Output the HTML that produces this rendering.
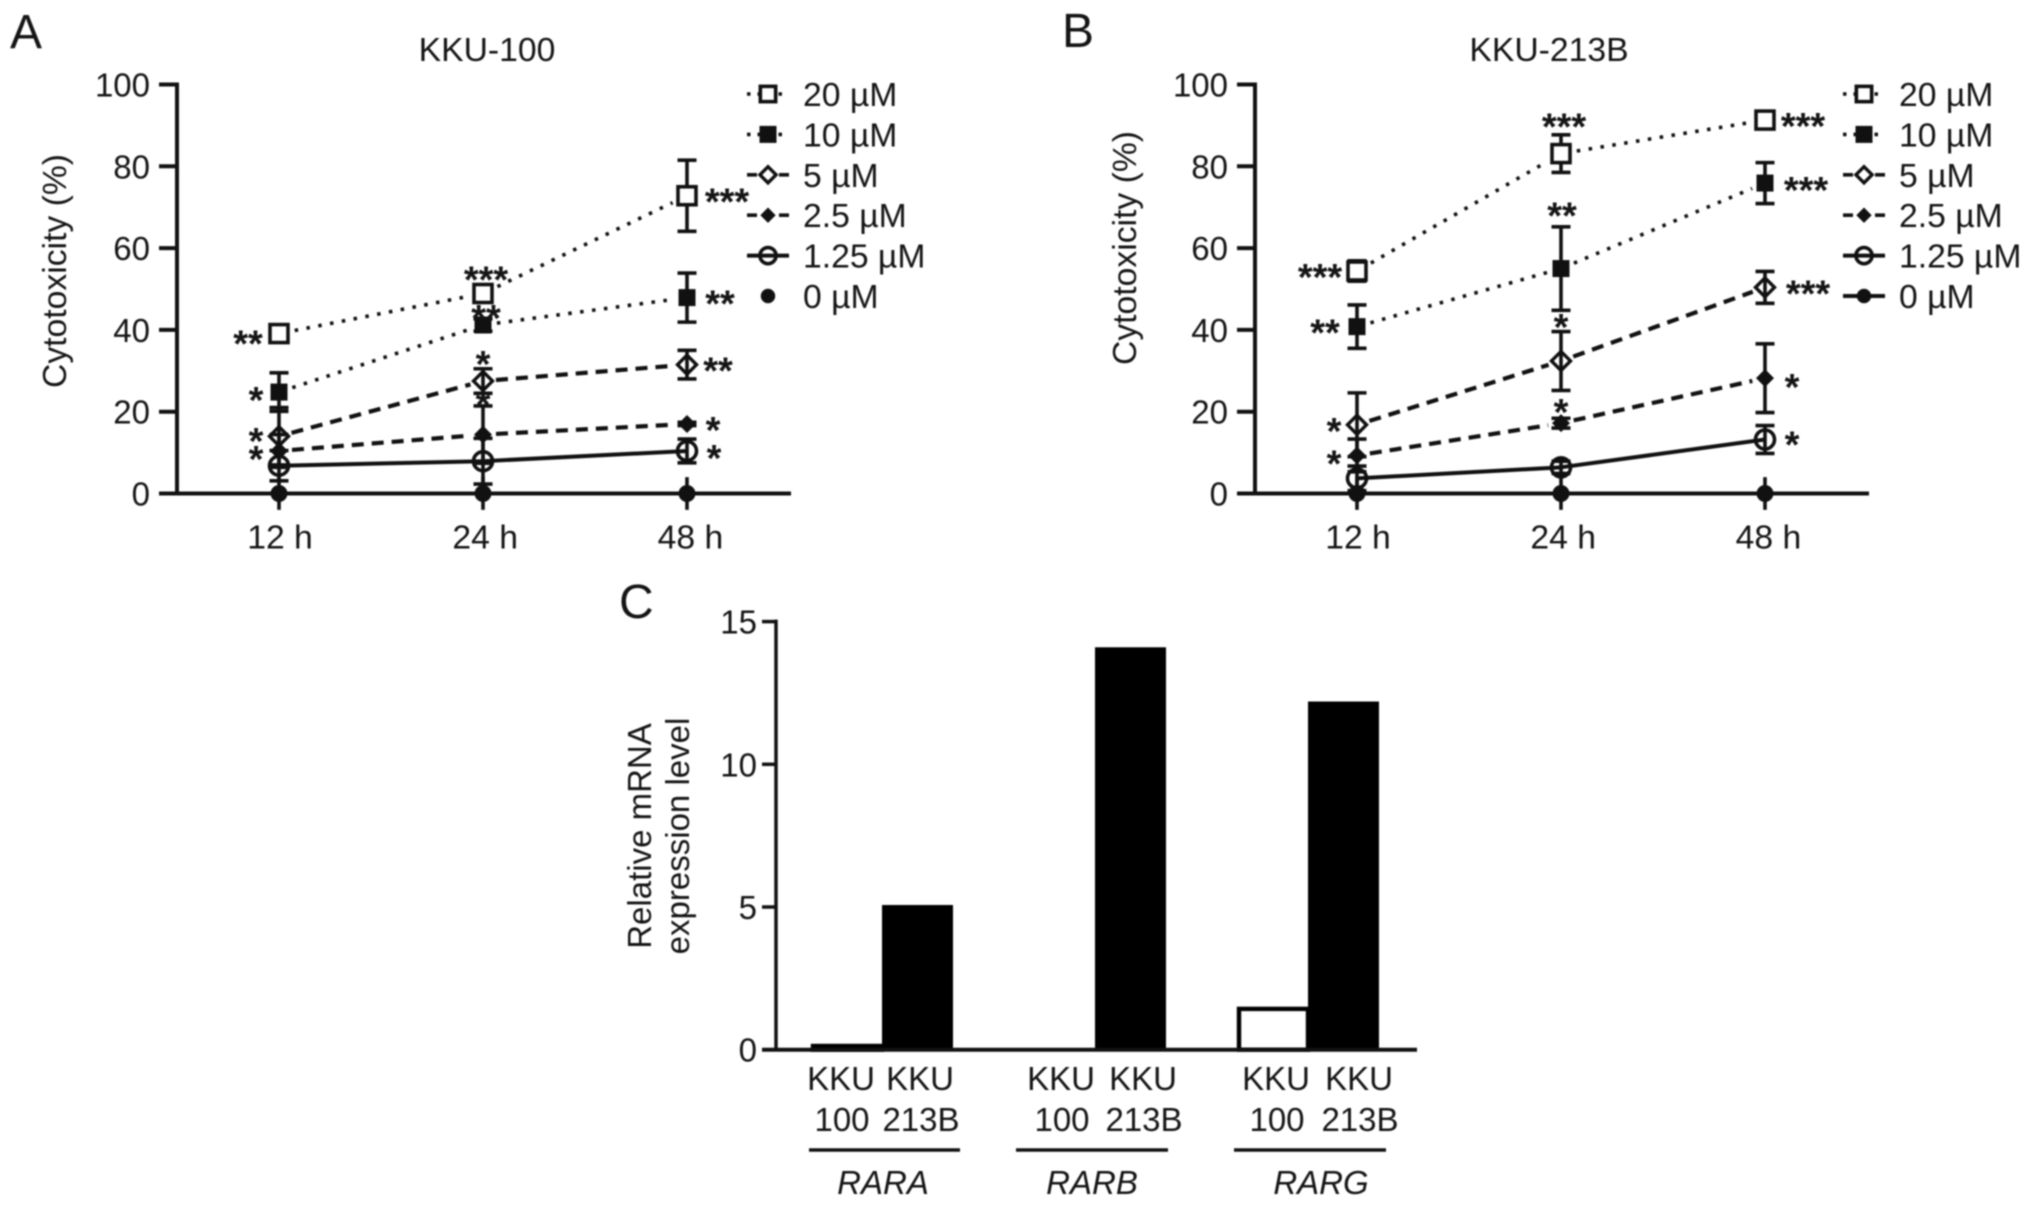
<!DOCTYPE html>
<html lang="en">
<head>
<meta charset="utf-8">
<title>Cytotoxicity and mRNA expression in KKU-100 and KKU-213B</title>
<style>
  html, body { margin: 0; padding: 0; background: #fff; }
  svg { display: block; filter: blur(0.7px); }
  text { font-family: "Liberation Sans", "DejaVu Sans", sans-serif; fill: #151515; }
</style>
</head>
<body>
<svg id="figure" xmlns="http://www.w3.org/2000/svg" width="2031" height="1207" viewBox="0 0 2031 1207">
  <rect x="0" y="0" width="2031" height="1207" fill="#fff"/>
  <text x="10" y="48" font-size="48">A</text>
  <text x="1062" y="47" font-size="48">B</text>
  <text x="619" y="618" font-size="48">C</text>
  <text x="487" y="61" font-size="33.7" text-anchor="middle">KKU-100</text>
  <text x="1549" y="61" font-size="33.7" text-anchor="middle">KKU-213B</text>
  <text transform="translate(66 271) rotate(-90)" font-size="33.7" text-anchor="middle">Cytotoxicity (%)</text>
  <text transform="translate(1136 248) rotate(-90)" font-size="33.7" text-anchor="middle">Cytotoxicity (%)</text>
  <text transform="translate(651 836) rotate(-90)" font-size="33" text-anchor="middle">Relative mRNA</text>
  <text transform="translate(689 836) rotate(-90)" font-size="33" text-anchor="middle">expression level</text>
  <g id="chart-a"></g>
  <g id="chart-b"></g>
  <g id="chart-c"></g>
</svg>
<script>
// ---------- shared categories and ticks ----------
const timepoints = ['12 h', '24 h', '48 h'];
const doseLabels = ['20 \u00B5M', '10 \u00B5M', '5 \u00B5M', '2.5 \u00B5M', '1.25 \u00B5M', '0 \u00B5M'];
const cytotoxicityTicks = [0, 20, 40, 60, 80, 100];

// ---------- panel A: KKU-100 means (%), one array per dose ----------
const kku100Dose20 = [39.1, 48.9, 72.8];
const kku100Dose10 = [24.8, 41.2, 47.9];
const kku100Dose5 = [14.0, 27.5, 31.5];
const kku100Dose2p5 = [10.4, 14.4, 17.0];
const kku100Dose1p25 = [6.8, 7.9, 10.4];
const kku100Dose0 = [0, 0, 0];

// panel A: error bars (+/-)
const kku100Err20 = [1.5, 2.0, 8.7];
const kku100Err10 = [4.7, 1.5, 6.0];
const kku100Err5 = [7.0, 3.0, 3.5];
const kku100Err2p5 = [4.0, 7.0, 0.4];
const kku100Err1p25 = [3.7, 5.6, 2.9];
const kku100Err0 = [4, 4, 4];

// ---------- panel B: KKU-213B means (%) ----------
const kku213bDose20 = [54.4, 83.1, 91.3];
const kku213bDose10 = [40.8, 55.0, 75.9];
const kku213bDose5 = [16.8, 32.4, 50.4];
const kku213bDose2p5 = [9.3, 17.2, 28.2];
const kku213bDose1p25 = [3.7, 6.4, 13.2];
const kku213bDose0 = [0, 0, 0];

// panel B: error bars (+/-)
const kku213bErr20 = [2.5, 4.6, 2.0];
const kku213bErr10 = [5.3, 10.2, 5.0];
const kku213bErr5 = [7.8, 7.2, 3.9];
const kku213bErr2p5 = [4.0, 1.2, 8.4];
const kku213bErr1p25 = [3.0, 1.5, 3.4];
const kku213bErr0 = [4, 4, 4];

// ---------- panel C: relative mRNA ----------
const geneLabels = ['RARA', 'RARB', 'RARG'];
const expressionKku100 = [0.2, 0, 1.5];
const expressionKku213b = [5.07, 14.1, 12.2];
const expressionTicks = [0, 5, 10, 15];

const SVGNS = 'http://www.w3.org/2000/svg';
function make(parent, tag, attrs, content) {
  const node = document.createElementNS(SVGNS, tag);
  for (const key in attrs) node.setAttribute(key, attrs[key]);
  if (content !== undefined) node.textContent = content;
  parent.appendChild(node);
  return node;
}

function doseStyle(i) {
  switch (i) {
    case 0: return { kind: 'square', dash: '3.5 8.5', trim: 16 };
    case 1: return { kind: 'squareFilled', dash: '3.5 8.5', trim: 14 };
    case 2: return { kind: 'diamond', dash: '12 8', trim: 13 };
    case 3: return { kind: 'diamondFilled', dash: '12 8', trim: 13 };
    case 4: return { kind: 'circle', dash: '', trim: 0 };
    default: return { kind: 'circleFilled', dash: '', trim: 0 };
  }
}

function drawMarker(parent, kind, cx, cy, scale, name) {
  const s = scale;
  let m;
  if (kind === 'square') {
    m = make(parent, 'rect', { x: cx - 9 * s, y: cy - 9 * s, width: 18 * s, height: 18 * s, fill: '#fff', stroke: '#111', 'stroke-width': 3.6 });
  } else if (kind === 'squareFilled') {
    m = make(parent, 'rect', { x: cx - 8.5, y: cy - 8.5, width: 17, height: 17, fill: '#111' });
  } else if (kind === 'diamond') {
    const r = 9.5 * s;
    m = make(parent, 'polygon', { points: [cx - r, cy, cx, cy - r, cx + r, cy, cx, cy + r].join(' '), fill: 'none', stroke: '#111', 'stroke-width': 3.4 });
  } else if (kind === 'diamondFilled') {
    const r = 9 * s;
    m = make(parent, 'polygon', { points: [cx - r, cy, cx, cy - r, cx + r, cy, cx, cy + r].join(' '), fill: '#111' });
  } else if (kind === 'circle') {
    m = make(parent, 'circle', { cx: cx, cy: cy, r: 9.5 * s, fill: 'none', stroke: '#111', 'stroke-width': 3.6 });
  } else {
    m = make(parent, 'circle', { cx: cx, cy: cy, r: 8.5 * s, fill: '#111' });
  }
  
  
  return m;
}

function drawLineChart(chart, seriesValues, seriesErrors) {
  const root = chart.root;
  const yOf = v => chart.y0 - v * (chart.y0 - chart.y100) / 100;
  const xOf = i => chart.x0 + i * chart.step;
  chart.xOf = xOf;
  chart.yOf = yOf;
  chart.values = seriesValues;

  // axes
  const xAxis = make(root, 'line', { x1: chart.axisX - 18, y1: chart.y0, x2: chart.axisEnd, y2: chart.y0, stroke: '#111', 'stroke-width': 4 });
  
  
  const yAxis = make(root, 'line', { x1: chart.axisX, y1: chart.y100 - 2, x2: chart.axisX, y2: chart.y0 + 2, stroke: '#111', 'stroke-width': 4 });
  
  

  cytotoxicityTicks.forEach(t => {
    const tick = make(root, 'line', { x1: chart.axisX - 18, y1: yOf(t), x2: chart.axisX, y2: yOf(t), stroke: '#111', 'stroke-width': 4 });
    
    
    const label = make(root, 'text', { x: chart.axisX - 27, y: yOf(t) + 12, 'font-size': 33, 'text-anchor': 'end' }, String(t));
    
    
  });

  timepoints.forEach((t, i) => {
    const label = make(root, 'text', { x: xOf(i) + 1 + i * 1.2, y: chart.y0 + 55, 'font-size': 33.7, 'text-anchor': 'middle' }, t);
    
    
  });

  // series lines
  seriesValues.forEach((vals, s) => {
    const st = doseStyle(s);
    for (let i = 0; i < vals.length - 1; i++) {
      const x1 = xOf(i), y1 = yOf(vals[i]), x2 = xOf(i + 1), y2 = yOf(vals[i + 1]);
      const len = Math.hypot(x2 - x1, y2 - y1);
      const ux = (x2 - x1) / len, uy = (y2 - y1) / len;
      const seg = make(root, 'line', {
        x1: x1 + ux * st.trim, y1: y1 + uy * st.trim,
        x2: x2 - ux * st.trim, y2: y2 - uy * st.trim,
        stroke: '#111', 'stroke-width': st.dash ? (s < 2 ? 3.6 : 4.2) : 4
      });
      if (st.dash) seg.setAttribute('stroke-dasharray', st.dash);
      
      
    }
  });

  // error bars
  seriesValues.forEach((vals, s) => {
    vals.forEach((v, i) => {
      const e = seriesErrors[s][i];
      const x = xOf(i);
      const bar = make(root, 'line', { x1: x, y1: yOf(v + e), x2: x, y2: yOf(v - e), stroke: '#111', 'stroke-width': 3.6 });
      
      
      if (s < 5) {
        [v + e, v - e].forEach((end, k) => {
          const cap = make(root, 'line', { x1: x - 9.5, y1: yOf(end), x2: x + 9.5, y2: yOf(end), stroke: '#111', 'stroke-width': 3.6 });
          
          
        });
      }
    });
  });

  // markers
  seriesValues.forEach((vals, s) => {
    vals.forEach((v, i) => {
      drawMarker(root, doseStyle(s).kind, xOf(i), yOf(v), 1, 'marker-' + doseLabels[s].split(' ')[0] + 'um-' + timepoints[i].replace(' ', ''));
    });
  });

  // legend
  doseLabels.forEach((lab, s) => {
    const st = doseStyle(s);
    const rowY = 94 + s * 40.4;
    const entry = make(root, 'g', {});
    
    
    if (chart.zeroLegendLine || s < 5) {
      const sample = make(entry, 'line', { x1: chart.legendX, y1: rowY, x2: chart.legendX + 42, y2: rowY, stroke: '#111', 'stroke-width': st.dash ? 3.6 : 4 });
      if (st.dash) sample.setAttribute('stroke-dasharray', s < 2 ? '3.5 7' : '10 22');
      
      
    }
    drawMarker(entry, st.kind, chart.legendX + 21, rowY, 0.85, 'legend-marker');
    const text = make(entry, 'text', { x: chart.legendX + 56, y: rowY + 12, 'font-size': 33.7 }, lab);
    
    
  });
}

// significance asterisk anchored to a data point, offset in px
function star(chart, s, i, label, dx, dy) {
  const x = chart.xOf(i) + dx;
  const y = chart.yOf(chart.values[s][i]) + dy;
  const t = make(chart.root, 'text', { x: x, y: y + 18, 'font-size': 38, 'font-weight': 'bold', 'text-anchor': 'middle' }, label);
  
  
}

// ---------- panel A ----------
const chartA = { root: document.getElementById('chart-a'), axisX: 177, axisEnd: 791, x0: 279, step: 204, y0: 493.5, y100: 84.5, legendX: 747, zeroLegendLine: false };
drawLineChart(chartA,
  [kku100Dose20, kku100Dose10, kku100Dose5, kku100Dose2p5, kku100Dose1p25, kku100Dose0],
  [kku100Err20, kku100Err10, kku100Err5, kku100Err2p5, kku100Err1p25, kku100Err0]);
star(chartA, 0, 0, '**', -31, 5);
star(chartA, 0, 1, '***', 3, -19);
star(chartA, 0, 2, '***', 40, 1);
star(chartA, 1, 0, '*', -23, 3);
star(chartA, 1, 1, '**', 3, -12);
star(chartA, 1, 2, '**', 33, 1);
star(chartA, 2, 0, '*', -23, 0);
star(chartA, 2, 1, '*', 0, -22);
star(chartA, 2, 2, '**', 31, 1);
star(chartA, 3, 0, '*', -23, 3);
star(chartA, 3, 1, '*', 0, -35);
star(chartA, 3, 2, '*', 26, 1);
star(chartA, 4, 2, '*', 27, 2);

// ---------- panel B ----------
const chartB = { root: document.getElementById('chart-b'), axisX: 1255, axisEnd: 1869, x0: 1357, step: 204, y0: 493.5, y100: 84.5, legendX: 1843, zeroLegendLine: true };
drawLineChart(chartB,
  [kku213bDose20, kku213bDose10, kku213bDose5, kku213bDose2p5, kku213bDose1p25, kku213bDose0],
  [kku213bErr20, kku213bErr10, kku213bErr5, kku213bErr2p5, kku213bErr1p25, kku213bErr0]);
star(chartB, 0, 0, '***', -37, 1);
star(chartB, 0, 1, '***', 3, -32);
star(chartB, 0, 2, '***', 38, 1);
star(chartB, 1, 0, '**', -32, 1);
star(chartB, 1, 1, '**', 1, -58);
star(chartB, 1, 2, '***', 41, 2);
star(chartB, 2, 0, '*', -23, 1);
star(chartB, 2, 1, '*', 0, -39);
star(chartB, 2, 2, '***', 43, 1);
star(chartB, 3, 0, '*', -23, 3);
star(chartB, 3, 1, '*', 0, -16);
star(chartB, 3, 2, '*', 27, 4);
star(chartB, 4, 2, '*', 27, 0);

// ---------- panel C ----------
(function drawBars() {
  const root = document.getElementById('chart-c');
  const axisX = 776, axisEnd = 1417, y0 = 1049.7, y15 = 621.6;
  const barWidth = 71;
  const yOf = v => y0 - v * (y0 - y15) / 15;
  const groupX = i => 882 + i * 213;

  // label and rule placement per group, relative to the group centre
  function groupLayout(i) {
    if (i === 0) return { left: -41, right: 38, ruleL: -73, ruleR: 78, gene: 1 };
    if (i === 1) return { left: -34, right: 48, ruleL: -79, ruleR: 73, gene: -3 };
    return { left: -32, right: 51, ruleL: -74, ruleR: 78, gene: 13 };
  }

  // bars first so the axis line overlays their base
  geneLabels.forEach((gene, i) => {
    const h100 = y0 - yOf(expressionKku100[i]);
    if (expressionKku100[i] > 0) {
      const bar = make(root, 'rect', { x: groupX(i) - barWidth + 2, y: yOf(expressionKku100[i]) + 2, width: barWidth - 2, height: Math.max(h100 - 2, 0), fill: '#fff', stroke: '#000', 'stroke-width': 4.4 });
      
      
    }
    const h213 = y0 - yOf(expressionKku213b[i]);
    const bar2 = make(root, 'rect', { x: groupX(i), y: yOf(expressionKku213b[i]), width: barWidth, height: h213, fill: '#000' });
    
    
  });

  const xAxis = make(root, 'line', { x1: axisX - 14, y1: y0, x2: axisEnd, y2: y0, stroke: '#111', 'stroke-width': 4 });
  
  
  const yAxis = make(root, 'line', { x1: axisX, y1: y15 - 2, x2: axisX, y2: y0, stroke: '#111', 'stroke-width': 3.5 });
  
  

  expressionTicks.forEach(t => {
    const tick = make(root, 'line', { x1: axisX - 14, y1: yOf(t), x2: axisX, y2: yOf(t), stroke: '#111', 'stroke-width': 3.5 });
    
    
    const label = make(root, 'text', { x: axisX - 19, y: yOf(t) + 12, 'font-size': 33, 'text-anchor': 'end' }, String(t));
    
    
  });

  geneLabels.forEach((gene, i) => {
    const cx = groupX(i);
    const g = groupLayout(i);
    [['100', g.left], ['213B', g.right]].forEach((p, k) => {
      const top = make(root, 'text', { x: cx + p[1], y: 1090, 'font-size': 33, 'text-anchor': 'middle' }, 'KKU');
      
      
      const bottom = make(root, 'text', { x: cx + p[1] + 1, y: 1131, 'font-size': 33, 'text-anchor': 'middle' }, p[0]);
      
      
    });
    const rule = make(root, 'line', { x1: cx + g.ruleL, y1: 1150, x2: cx + g.ruleR, y2: 1150, stroke: '#111', 'stroke-width': 3.6 });
    
    
    const geneText = make(root, 'text', { x: cx + g.gene, y: 1194, 'font-size': 33, 'font-style': 'italic', 'text-anchor': 'middle' }, gene);
    
    
  });
})();
</script>
</body>
</html>
